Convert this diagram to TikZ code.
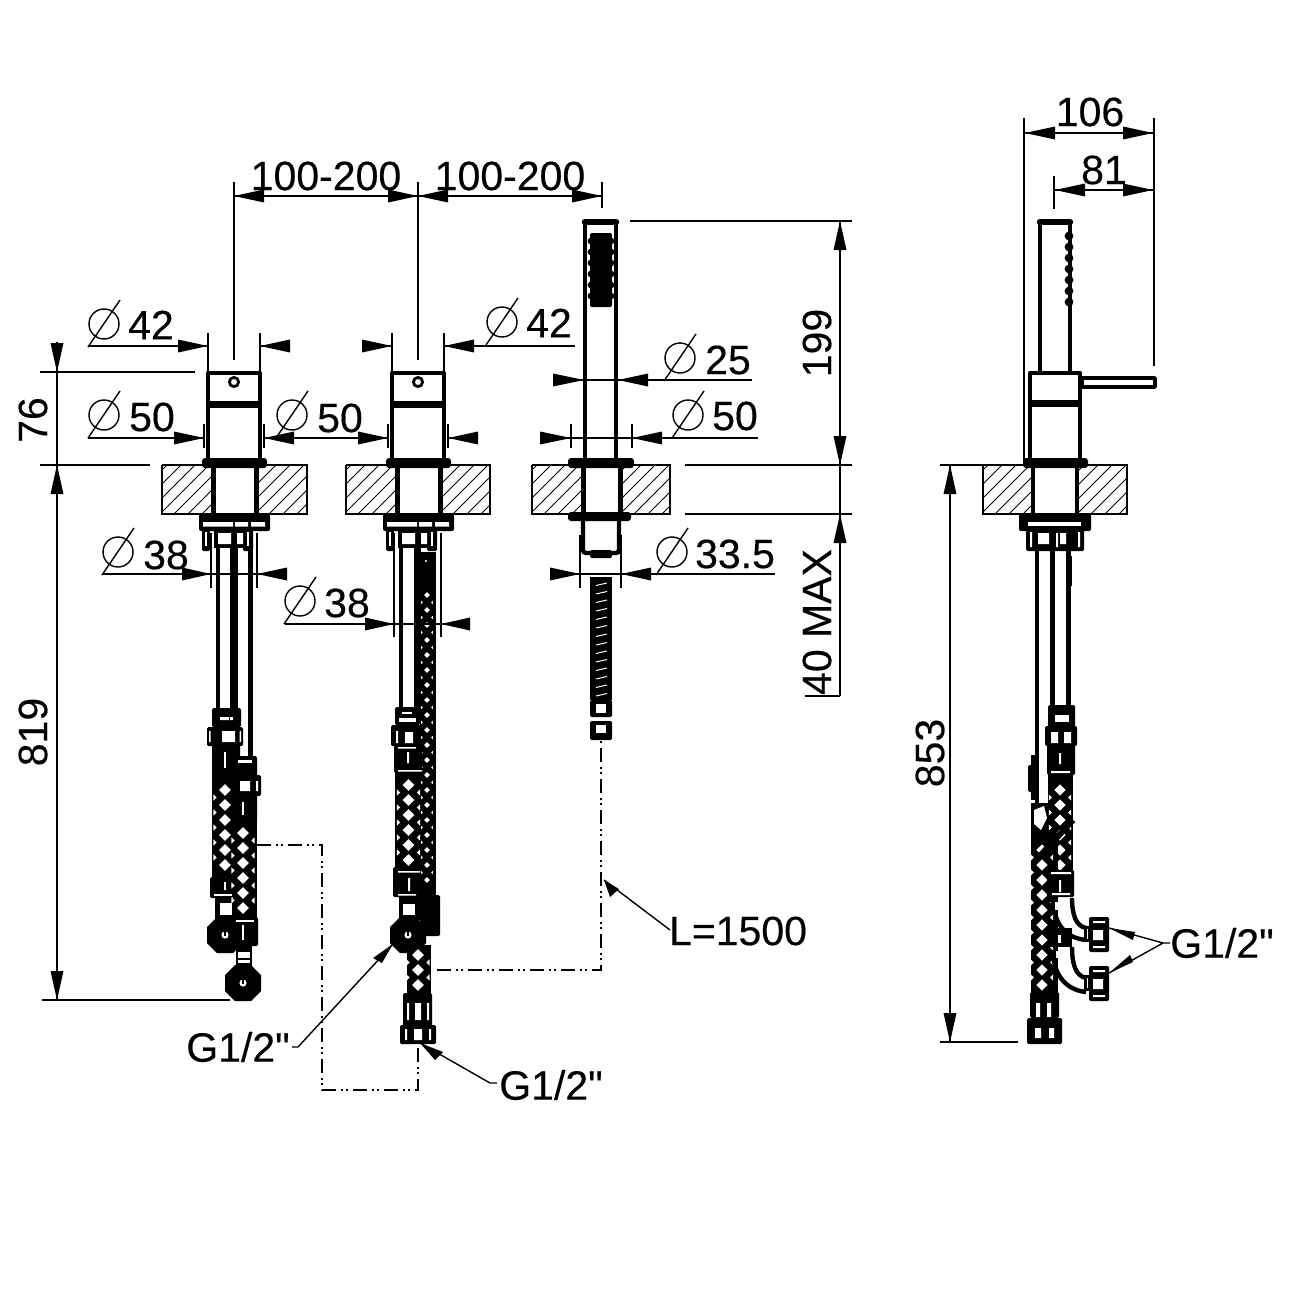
\documentclass[tikz,border=0pt]{standalone}
\usepackage{fontspec}
\newfontfamily\plainsans[FakeBold=0.3]{Liberation Sans}
\tikzset{
  x=1pt,y=-1pt,
  thin line/.style={line width=1.4pt,black},
  heavy/.style={line width=4.6pt,black,line join=round,line cap=round},
  blk/.style={fill=black,rounded corners=1.5pt},
  dimtxt/.style={font=\plainsans\fontsize{41}{41}\selectfont,inner sep=0pt,text=black},
  phase/.style={line width=2.6pt,black,dash pattern=on 14pt off 5pt on 2pt off 3pt on 2pt off 5pt},
  hatchl/.style={line width=1pt,black}
}
\newcommand{\headH}[3]{\fill (#1,#2) -- (#3,#2-6.5) -- (#3,#2+6.5) -- cycle;}
\newcommand{\headV}[3]{\fill (#1,#2) -- (#1-6.5,#3) -- (#1+6.5,#3) -- cycle;}
\newcommand{\diam}[2]{\draw[thin line] (#1,#2) circle (15);\draw[thin line] (#1-16,#2+23) -- (#1+16,#2-24);}
\newcommand{\pairH}[5]{\headH{#2}{#1}{#3}\headH{#4}{#1}{#5}}
\newcommand{\slab}[4]{%
  \begin{scope}
    \clip (#1,465) rectangle (#3,514);
    \foreach \k in {0,...,12}{\draw[hatchl] (#1-50+\k*14,520) -- (#1+10+\k*14,460);}
  \end{scope}
  \begin{scope}
    \clip (#4,465) rectangle (#2,514);
    \foreach \k in {0,...,12}{\draw[hatchl] (#4-50+\k*14,520) -- (#4+10+\k*14,460);}
  \end{scope}
  \draw[thin line] (#1,465) -- (#3,465) (#1,465) -- (#1,514) -- (#3,514);
  \draw[thin line] (#4,465) -- (#2,465) -- (#2,514) -- (#4,514);
}
\newcommand{\diamonds}[5]{% xc, y1, y2, step, half
  \pgfmathtruncatemacro{\nn}{(#3-#2)/#4}%
  \foreach \ii in {0,...,\nn}{%
    \pgfmathsetmacro{\yy}{#2+\ii*#4}%
    \fill[white] (#1,\yy-#5) -- (#1+#5,\yy) -- (#1,\yy+#5) -- (#1-#5,\yy) -- cycle;
    \ifnum\ii<\nn
    \fill[white] (#1-2*#5,\yy+#4/2-.55*#5) -- (#1-1.45*#5,\yy+#4/2) -- (#1-2*#5,\yy+#4/2+.55*#5) -- cycle;
    \fill[white] (#1+2*#5,\yy+#4/2-.55*#5) -- (#1+1.45*#5,\yy+#4/2) -- (#1+2*#5,\yy+#4/2+.55*#5) -- cycle;
    \fi
  }%
}
\newcommand{\octa}[2]{%
  \fill[black] (#1-8,#2-18) -- (#1+8,#2-18) -- (#1+18,#2-8) -- (#1+18,#2+8) -- (#1+8,#2+18) -- (#1-8,#2+18) -- (#1-18,#2+8) -- (#1-18,#2-8) -- cycle;
  \fill[white] (#1,#2) circle (3.6);
  \fill[black] (#1-.8,#2-3.6) rectangle (#1+.8,#2+.8);
}
\newcommand{\mixertop}[1]{%
  \begin{scope}[shift={(#1,0)}]
    \draw[heavy] (-26,373) rectangle (26,462);
    \draw[line width=7pt] (-26,404) -- (26,404);
    \draw[line width=2.8pt] (0,382) circle (4.6);
    \fill[black,rounded corners=3pt] (-32,458) rectangle (33,468);
    \draw[line width=5pt] (-21,466) -- (-21,514) (22,466) -- (22,514);
    \fill[black,rounded corners=2pt] (-35,513) rectangle (36,531);
    \fill[white] (-31,522) rectangle (-1,526.5) (1,522) rectangle (14,526.5) (17,522) rectangle (31,526.5);
    \fill[black,rounded corners=1.5pt] (-32,530) rectangle (-24,551) (9,530) rectangle (19,551);
    \fill[white] (-29.5,532) rectangle (-27,546);
    \fill[white] (12,532) rectangle (14.5,546);
    \fill[black] (-20,530) rectangle (13,548);
    \fill[white] (-16,533) rectangle (-3,544) (3,533) rectangle (9,544);
  \end{scope}
}
\begin{document}
\begin{tikzpicture}
\useasboundingbox (0,0) rectangle (1300,1300);
\fill[white] (0,0) rectangle (1300,1300);

% ---------- slabs
\slab{162}{307}{212}{257}
\slab{346}{490}{396}{441}
\slab{532}{670}{582}{622}
\slab{983}{1127}{1031}{1079}

% ---------- mixers
\mixertop{234}
\mixertop{418}

% ---------- pipes mixer 1
\draw[line width=4.4pt] (218,548) -- (218,712);
\draw[line width=8pt] (234,548) -- (234,712);
\draw[line width=4.8pt] (250.5,548) -- (250.5,758);
\fill[blk] (212,708) rectangle (241,727);
\fill[white] (220,717) rectangle (229,720) (230,717) rectangle (233,720);
\fill[blk] (207,727) rectangle (243,746);
\fill[white] (222,731) rectangle (235,742) (209,731) rectangle (210.5,742) (239.5,731) rectangle (241,742);
\fill[blk] (212,745) rectangle (240,776);
\fill[white] (224,752) rectangle (226,768);
\fill[black] (212,775) rectangle (234,878);
\diamonds{225}{790}{868}{15}{5.8}
\fill[blk] (210,877) rectangle (233,898);
\fill[white] (224,882) rectangle (226,890);
\fill[white] (214,894) rectangle (232,896);
\fill[black] (215,898) rectangle (233,920);
\fill[white] (220,903) rectangle (232,915);
\octa{225}{935}
\fill[blk] (235,756) rectangle (257,776);
\fill[white] (238,760) rectangle (252,763);
\fill[blk] (231,775) rectangle (261,796);
\fill[white] (240,781) rectangle (250,791) (256,781) rectangle (258,791);
\fill[blk] (233,795) rectangle (257,823);
\fill[white] (242,802) rectangle (244,815);
\fill[black] (233,822) rectangle (257,918);
\diamonds{243}{833}{910}{15}{5.8}
\fill[blk] (233,917) rectangle (258,946);
\fill[white] (242,925) rectangle (244,940);
\fill[white] (236,920) rectangle (254,922);
\fill[black] (236,946) rectangle (252,968);
\fill[white] (238,952) rectangle (250,963);
\fill[black] (238,958) rectangle (250,960);
\octa{243}{983}

% ---------- pipes mixer 2
\draw[line width=4.4pt] (401,548) -- (401,712);
\fill[black] (414,548) rectangle (421,712);
\fill[black] (420,552) rectangle (436,590);
\fill[white] (426,561) circle (1.2);
\fill[black] (420,590) rectangle (436,900);
\diamonds{427}{595}{890}{15}{2.9}
\fill[blk] (395,707) rectangle (420,725);
\fill[white] (402,712) rectangle (412,714);
\fill[white] (399,718) rectangle (416,722);
\fill[blk] (391,725) rectangle (421,746);
\fill[white] (405,732) rectangle (413,743) (396,731) rectangle (398,743);
\fill[blk] (394,745) rectangle (422,773);
\fill[white] (407,752) rectangle (409,763) (398,747) rectangle (416,748.5) (398,770) rectangle (422,771.5);
\fill[black] (395,772) rectangle (421,868);
\diamonds{408.5}{785}{860}{15}{5.8}
\fill[blk] (393,867) rectangle (421,897);
\fill[white] (398,871) rectangle (420,872.5) (408,878) rectangle (410,891) (398,894) rectangle (416,895.5);
\fill[black] (399,897) rectangle (421,920);
\fill[white] (403,904) rectangle (415,915);
\fill[blk] (420,895) rectangle (440,936);
\octa{408}{935}
\fill[black] (407,945) rectangle (431,996);
\diamonds{418}{955}{986}{15}{5.8}
\fill[blk] (403,993) rectangle (432,1026);
\fill[white] (407,1003) rectangle (409,1020) (415,1003) rectangle (421,1020) (427,1003) rectangle (429,1020);
\fill[blk] (400,1025) rectangle (436,1044);
\fill[white] (414,1029) rectangle (422,1040) (405,1029) rectangle (407,1040) (429,1029) rectangle (431,1040);

% ---------- hand shower front
\draw[heavy] (585,222) -- (585,462) (616,222) -- (616,462);
\draw[line width=6.5pt,line cap=round] (585,222) -- (616,222);
\fill[black,rounded corners=2pt] (590,233) rectangle (612,307);
\foreach \yy in {241,252,...,300}{\fill[black] (591,\yy) circle (3.4) (611,\yy) circle (3.4);}
\fill[black,rounded corners=3pt] (568,458) rectangle (634,468);
\draw[line width=5pt] (583,466) -- (583,514) (620,466) -- (620,514);
\fill[black,rounded corners=3pt] (568,512) rectangle (631,521);
\draw[line width=4.4pt,rounded corners=3pt] (583,520) -- (583,553) -- (619,553) -- (619,520);
\fill[white] (586,522) rectangle (596,525) (604,522) rectangle (616,525);
\fill[black,rounded corners=2pt] (590,550) rectangle (612,558);
\fill[black] (590,577) rectangle (612,700);
\foreach \yy in {584,592.5,...,700}{\draw[white,line width=1pt] (596,\yy+1.5) -- (607,\yy-1);}
\fill[blk] (590,700) rectangle (612,717);
\fill[white] (596,704) rectangle (606,713);
\fill[blk] (590,721) rectangle (612,740);
\fill[white] (596,725) rectangle (606,733);

% ---------- side view
\draw[heavy] (1040,222) -- (1040,372);
\draw[line width=4.4pt] (1070,222) -- (1070,372);
\draw[line width=6.5pt,line cap=round] (1040,222) -- (1070,222);
\foreach \yy in {236,247,...,302}{\fill[black] (1069,\yy) circle (4.4);}
\draw[heavy] (1030,373) rectangle (1080,462);
\draw[line width=7pt] (1030,403) -- (1080,403);
\draw[line width=3.4pt,line join=round] (1082,378) rectangle (1155,387);
\fill[black,rounded corners=3pt] (1023,458) rectangle (1088,468);
\draw[line width=4.8pt] (1033,466) -- (1033,514) (1077,466) -- (1077,514);
\fill[black,rounded corners=2pt] (1019,513) rectangle (1091,531);
\fill[white] (1028,522) rectangle (1081,526);
\fill[black,rounded corners=1.5pt] (1026,530) rectangle (1084,551);
\fill[white] (1030,532) rectangle (1032,547) (1038,533) rectangle (1049,544) (1056,533) rectangle (1058,547) (1060,533) rectangle (1066,544) (1078,532) rectangle (1080,547);
\draw[line width=4.4pt] (1037,548) -- (1037,806);
\draw[line width=5pt] (1052.5,548) -- (1052.5,708);
\draw[line width=4.5pt] (1068.5,548) -- (1068.5,708);
\draw[line width=1.8pt] (1071,556) -- (1071,586);
\fill[blk] (1048,705) rectangle (1075,727);
\fill[white] (1055,715) rectangle (1069,722);
\fill[blk] (1045,726) rectangle (1077,746);
\fill[white] (1051,732) rectangle (1058,743) (1064,732) rectangle (1071,743);
\fill[blk] (1047,745) rectangle (1075,775);
\fill[white] (1059,753) rectangle (1061,764) (1051,771) rectangle (1070,773);
% clip on the left
\fill[blk] (1028,765) rectangle (1037,792);
\fill[black] (1031,755) rectangle (1036,800);
% right braid
\fill[black] (1048,775) rectangle (1073,872);
\diamonds{1060}{790}{865}{15}{5.6}
% left braid
\fill[black] (1031,803) rectangle (1048,835);
\fill[white] (1034,810) -- (1044,806) -- (1047,818) -- (1041,830) -- (1034,824) -- cycle;
\fill[black] (1031,833) rectangle (1058,995);
\diamonds{1042}{850}{985}{15}{5.6}
\draw[line width=6pt] (1073,820) -- (1038,858);
% right collar
\fill[blk] (1047,870) rectangle (1074,897);
\fill[white] (1059,880) rectangle (1061,892) (1051,872) rectangle (1071,874) (1052,893) rectangle (1070,895);
% elbows
\draw[line width=4.4pt] (1053,900) .. controls (1054,925) and (1066,938) .. (1086,940);
\draw[line width=4.4pt] (1072,898) .. controls (1072,915) and (1076,926) .. (1086,928);
\fill[white] (1055,902) rectangle (1069,910);
\fill[black] (1048,928) rectangle (1072,947);
\fill[white] (1058,935) rectangle (1061,943);
\draw[line width=4.4pt] (1053,953) .. controls (1054,975) and (1066,990) .. (1086,992);
\draw[line width=4.4pt] (1072,947) .. controls (1072,965) and (1076,976) .. (1086,978);
\fill[white] (1056,951) rectangle (1069,958);
\foreach \yy in {917,966}{
  \fill[black] (1084,\yy+9) rectangle (1090,\yy+25);
  \fill[white] (1086.5,\yy+12) rectangle (1088,\yy+22);
  \fill[blk] (1089,\yy) rectangle (1109,\yy+35);
  \fill[white] (1093,\yy+13) rectangle (1103,\yy+23) (1093,\yy+4) rectangle (1105,\yy+6) (1093,\yy+29) rectangle (1105,\yy+31);
}
\fill[blk] (1030,992) rectangle (1059,1018);
\fill[white] (1036,1003) rectangle (1040,1017) (1047,1003) rectangle (1051,1017);
\fill[blk] (1027,1018) rectangle (1062,1044);
\fill[white] (1035,1028) rectangle (1041,1038) (1049,1028) rectangle (1054,1038);

% ---------- phantom lines
\draw[phase] (257,845) -- (322,845) -- (322,1090) -- (418,1090) -- (418,1045);
\draw[phase] (437,970) -- (601,970) -- (601,740);

% ---------- dimensions
\begin{scope}[thin line]
\draw (234,182) -- (234,360) (418,182) -- (418,360) (602,182) -- (602,208);
\draw (234,196) -- (602,196);
\draw (1024,118) -- (1024,460) (1154,118) -- (1154,366);
\draw (1024,133) -- (1154,133);
\draw (1054,176) -- (1054,209);
\draw (1054,190) -- (1154,190);
\draw (88,346) -- (208,346) (208,333) -- (208,372) (260,333) -- (260,372) (260,346) -- (290,346);
\draw (362,346) -- (392,346) (392,333) -- (392,372) (444,333) -- (444,372) (444,346) -- (575,346);
\draw (88,438) -- (204,438) (204,424) -- (204,448) (264,424) -- (264,448) (264,438) -- (388,438) (388,424) -- (388,448) (448,424) -- (448,448) (448,438) -- (478,438);
\draw (553,380) -- (752,380);
\draw (540,438) -- (758,438) (571,424) -- (571,448) (632,424) -- (632,448);
\draw (103,574) -- (287,574) (211,533) -- (211,588) (257,533) -- (257,588);
\draw (285,624) -- (470,624) (394,533) -- (394,637) (441,533) -- (441,637);
\draw (550,574) -- (775,574) (580,535) -- (580,588) (621,535) -- (621,588);
\draw (40,372) -- (195,372) (40,465) -- (150,465) (42,1000) -- (230,1000);
\draw (630,221) -- (852,221) (685,465) -- (852,465) (685,514) -- (852,514) (805,696) -- (840,696);
\draw (940,465) -- (1022,465) (940,1042) -- (1018,1042);
\draw (57,342) -- (57,1000);
\draw (840,221) -- (840,696);
\draw (950,465) -- (950,1042);
\draw (292,1047) -- (298,1047) -- (393,944);
\draw (497,1083) -- (490,1083) -- (420,1043);
\draw (670,930) -- (604,880);
\draw (1170,943) -- (1163,943) -- (1109,928) (1163,943) -- (1109,973);
\end{scope}
\pairH{196}{234}{264}{418}{388}
\pairH{196}{418}{448}{602}{572}
\pairH{133}{1025}{1055}{1153}{1123}
\pairH{190}{1055}{1085}{1153}{1123}
\pairH{346}{208}{178}{260}{290}
\pairH{346}{392}{362}{444}{474}
\pairH{438}{204}{174}{264}{294}
\pairH{438}{388}{358}{448}{478}
\pairH{380}{584}{553}{618}{648}
\pairH{438}{571}{540}{632}{662}
\pairH{574}{211}{182}{257}{287}
\pairH{624}{394}{365}{441}{470}
\pairH{574}{580}{550}{621}{651}
\headV{57}{372}{343}
\headV{57}{465}{494}
\headV{57}{1000}{971}
\headV{840}{221}{250}
\headV{840}{465}{436}
\headV{840}{514}{543}
\headV{950}{465}{494}
\headV{950}{1042}{1013}
\fill (393,944) -- (373,958) -- (382,963) -- cycle;
\fill (420,1043) -- (443,1052) -- (435,1060) -- cycle;
\fill (604,880) -- (619,889) -- (610,897) -- cycle;
\fill (1109,928) -- (1135,932) -- (1133,940) -- cycle;
\fill (1109,973) -- (1130,955) -- (1133,962) -- cycle;

% ---------- diameter symbols
\diam{104}{324}
\diam{502}{322}
\diam{104}{415}
\diam{292}{415}
\diam{680}{358}
\diam{688}{415}
\diam{118}{552}
\diam{300}{601}
\diam{672}{552}

% ---------- texts
\node[dimtxt] (t1) at (326,176) {100-200};
\node[dimtxt] (t2) at (510,176) {100-200};
\node[dimtxt] (t3) at (1090,112) {106};
\node[dimtxt] (t4) at (1104,170) {81};
\node[dimtxt] (t5) at (151,325) {42};
\node[dimtxt] (t6) at (549,323) {42};
\node[dimtxt] (t7) at (152,417) {50};
\node[dimtxt] (t8) at (340,418) {50};
\node[dimtxt] (t9) at (728,360) {25};
\node[dimtxt] (t10) at (735,416) {50};
\node[dimtxt] (t11) at (166,555) {38};
\node[dimtxt] (t12) at (347,603) {38};
\node[dimtxt] (t13) at (735,554) {33.5};
\node[dimtxt,rotate=90] (t14) at (33,420) {76};
\node[dimtxt,rotate=90] (t15) at (33,732) {819};
\node[dimtxt,rotate=90] (t16) at (817,343) {199};
\node[dimtxt,rotate=90] (t17) at (817,622) {40 MAX};
\node[dimtxt,rotate=90] (t18) at (930,753) {853};
\node[dimtxt] (t19) at (238,1047) {G1/2"};
\node[dimtxt] (t20) at (551,1085) {G1/2"};
\node[dimtxt] (t21) at (738,931) {L=1500};
\node[dimtxt] (t22) at (1222,943) {G1/2"};
\end{tikzpicture}
\end{document}
